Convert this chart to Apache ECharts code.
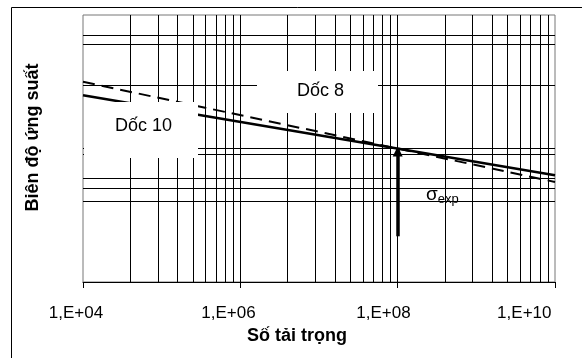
<!DOCTYPE html>
<html><head><meta charset="utf-8">
<script src="https://cdn.jsdelivr.net/npm/echarts@6/dist/echarts.min.js"></script>
<style>html,body{margin:0;padding:0;background:#fff}#chart{width:582px;height:358px}</style>
</head><body><div id="chart"></div>
<script>
// S-N diagram on log-log axes: number of load cycles vs. stress range
const loadTicks = [1e4, 1e6, 1e8, 1e10];
const slope10 = [[1e4, 25.1], [1e10, 6.31]];   // "Dốc 10" (solid)
const slope8 = [[1e4, 31.6], [1e10, 5.62]];    // "Dốc 8" (dashed)
const sigmaArrow = [[1e8, 2.2], [1e8, 10]];    // σexp marker at 1E+08 cycles
const stressLevels = [4, 5, 6, 9, 10, 30, 60, 70];
const blockStarts = [1e4, 1e6, 1e8];
const blockSteps = [4, 9, 16, 25, 36, 49, 64, 81];
const majorCycles = [1e6, 1e8];

const FONT = '"Liberation Sans", Arial, sans-serif';

const cycleLines = [];
blockStarts.forEach(b => blockSteps.forEach(k => cycleLines.push(b * k)));
majorCycles.forEach(v => cycleLines.push(v));

const gridMarks = cycleLines.map(v => ({ xAxis: v }))
  .concat(stressLevels.map(v => ({ yAxis: v })));

// tick labels sit left of their ticks; trailing no-break spaces push each one over
const labelPad = { 4: 3, 6: 5, 8: 6, 10: 13 };

const chart = echarts.init(document.getElementById('chart'), null, { renderer: 'canvas' });
chart.setOption({
  animation: false,
  backgroundColor: '#fff',
  grid: { left: 83, right: 27, top: 15, bottom: 76, show: true, borderColor: '#777', borderWidth: 1,
          containLabel: false, outerBoundsMode: 'none' },
  xAxis: {
    type: 'log', logBase: 100, min: loadTicks[0], max: loadTicks[loadTicks.length - 1],
    name: 'Số tải trọng', nameLocation: 'middle', nameGap: 42,
    nameTextStyle: { fontFamily: FONT, fontSize: 18, fontWeight: 'bold', color: '#000', padding: [0, 44, 0, 0] },
    axisLine: { show: true, lineStyle: { color: '#000', width: 1 } },
    axisTick: { show: true, length: 6, lineStyle: { color: '#000' } },
    splitLine: { show: false },
    axisLabel: {
      margin: 23, showMinLabel: true, showMaxLabel: true, hideOverlap: false,
      fontFamily: FONT, fontSize: 17, color: '#000',
      formatter: v => {
        const e = Math.round(Math.log10(v));
        return '1,E+' + (e < 10 ? '0' + e : e) + '\u00a0'.repeat(labelPad[e] || 0);
      }
    }
  },
  yAxis: {
    type: 'log', logBase: 10, min: 1, max: 100,
    name: 'Biên độ ứng suất', nameLocation: 'middle', nameGap: 41, nameRotate: 90,
    nameTextStyle: { fontFamily: FONT, fontSize: 18, fontWeight: 'bold', color: '#000', padding: [0, 0, 0, 22] },
    axisLine: { show: false }, axisTick: { show: false },
    axisLabel: { show: false }, splitLine: { show: false }
  },
  series: [
    {
      type: 'line', data: [], z: 1, silent: true,
      markLine: {
        silent: true, symbol: 'none', label: { show: false },
        lineStyle: { color: '#000', width: 1, type: 'solid' },
        data: gridMarks
      }
    },
    {
      name: 'Dốc 8', type: 'line', data: slope8, z: 3, symbol: 'none',
      lineStyle: { color: '#000', width: 2, type: [12, 7] }
    },
    {
      name: 'Dốc 10', type: 'line', data: slope10, z: 4, symbol: 'none',
      lineStyle: { color: '#000', width: 2.5 }
    },
    {
      type: 'line', data: [], z: 5, silent: true,
      markLine: {
        silent: true, symbol: ['none', 'triangle'], symbolSize: [10, 10],
        symbolOffset: [0, [0, 3]],
        label: { show: false },
        lineStyle: { color: '#000', width: 3.5, type: 'solid' },
        data: [[{ coord: sigmaArrow[0] }, { coord: sigmaArrow[1] }]]
      }
    }
  ],
  graphic: [
    { type: 'rect', z: 100, silent: true, shape: { x: 11.5, y: 7.5, width: 620, height: 420 },
      style: { fill: null, stroke: '#000', lineWidth: 1 } },
    // σexp box sits under the curves
    { type: 'rect', z: 2, silent: true, shape: { x: 409, y: 160, width: 80, height: 55 },
      style: { fill: '#fff' } },
    { type: 'text', z: 6, silent: true, left: 426, top: 185,
      style: { text: '{s|σ}{sub|exp}', rich: {
        s: { fontFamily: FONT, fontSize: 19, fill: '#000' },
        sub: { fontFamily: FONT, fontSize: 13, fill: '#000', padding: [10, 0, 0, 0] } } } },
    // slope labels cover the gridlines and curves
    { type: 'rect', z: 50, silent: true, shape: { x: 84, y: 102, width: 114, height: 56 },
      style: { fill: '#fff' } },
    { type: 'text', z: 51, silent: true, left: 115, top: 117,
      style: { text: 'Dốc 10', fontFamily: FONT, fontSize: 18, fill: '#000' } },
    { type: 'rect', z: 50, silent: true, shape: { x: 257, y: 71, width: 121, height: 42 },
      style: { fill: '#fff' } },
    { type: 'text', z: 51, silent: true, left: 297, top: 82,
      style: { text: 'Dốc 8', fontFamily: FONT, fontSize: 18, fill: '#000' } }
  ]
});
</script></body></html>
